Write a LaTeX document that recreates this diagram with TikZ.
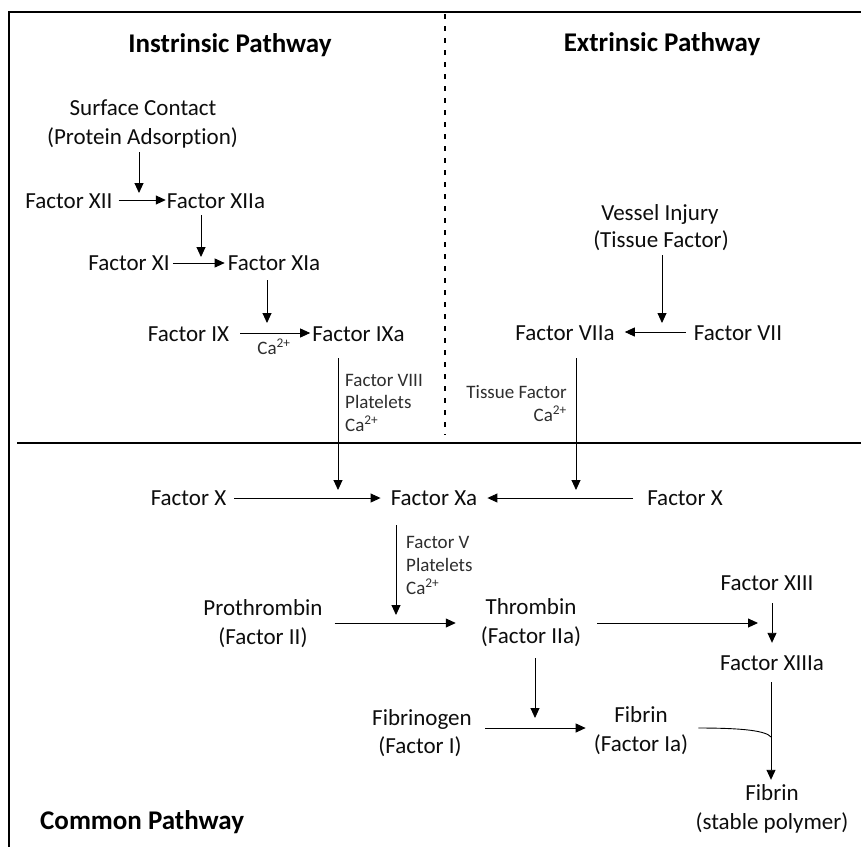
\documentclass[tikz,border=0pt]{standalone}
\usepackage{fontspec}
\setmainfont{Carlito}[Ligatures={NoCommon},RawFeature={-liga;-calt;-clig}]
\usetikzlibrary{arrows.meta}
\begin{document}
\begin{tikzpicture}[x=1pt,y=-1pt,
  txt/.style={font=\fontsize{23}{28}\selectfont, text=black!95, inner sep=0pt, text height=16pt, text depth=6pt, anchor=base},
  ttl/.style={font=\fontsize{27}{32}\selectfont\bfseries, text=black, inner sep=0pt, anchor=base},
  lbl/.style={font=\fontsize{19}{23}\selectfont, text=black!82, inner sep=0pt},
  arr/.style={draw=black, line width=0.9pt, -{Triangle[length=10pt,width=9pt]}},
  ln/.style={draw=black, line width=0.9pt},
  frame/.style={draw=black, line width=2pt},
  sep/.style={draw=black, line width=1.5pt, dash pattern=on 5pt off 7pt},
]
\useasboundingbox (0,0) rectangle (861,847);
\fill[white] (0,0) rectangle (861,847);

% frame and separators
\coordinate (tr) at (861,12);
\coordinate (tl) at (9,12);
\coordinate (bl) at (9,847);
\coordinate (ml) at (17,443);
\coordinate (mr) at (861,443);
\coordinate (dt) at (445,14);
\coordinate (db) at (445,435);
\draw[frame] (tr) -- (tl) -- (bl);
\draw[frame] (ml) -- (mr);
\draw[sep] (dt) -- (db);

% titles
\node[ttl] (tin) at (230,52) {Instrinsic Pathway};
\node[ttl] (tex) at (662,51) {Extrinsic Pathway};
\node[ttl, anchor=base west] (tco) at (40,829) {Common Pathway};

% intrinsic
\node[txt] (sc1) at (143,115) {Surface Contact};
\node[txt] (sc2) at (142.5,144) {(Protein Adsorption)};
\node[txt] (f12) at (69,208) {Factor XII};
\node[txt] (f12a) at (216,208) {Factor XIIa};
\node[txt] (f11) at (129,270) {Factor XI};
\node[txt] (f11a) at (274,270) {Factor XIa};
\node[txt] (f9) at (188.5,341) {Factor IX};
\node[txt] (f9a) at (358.5,341) {Factor IXa};
\node[lbl, anchor=base] (ca1) at (274,354) {Ca\textsuperscript{2+}};
\node[lbl, anchor=base west] (l8a) at (345,386) {Factor VIII};
\node[lbl, anchor=base west] (l8b) at (345,408) {Platelets};
\node[lbl, anchor=base west] (l8c) at (345,431) {Ca\textsuperscript{2+}};

% extrinsic
\node[txt] (vi1) at (660,220) {Vessel Injury};
\node[txt] (vi2) at (661,247) {(Tissue Factor)};
\node[txt] (f7a) at (565,340) {Factor VIIa};
\node[txt] (f7) at (738,340) {Factor VII};
\node[lbl, anchor=base east] (tfa) at (567,398) {Tissue Factor};
\node[lbl, anchor=base east] (tfb) at (567,421) {Ca\textsuperscript{2+}};

% common
\node[txt] (fx1) at (188.5,505) {Factor X};
\node[txt] (fxa) at (434,505) {Factor Xa};
\node[txt] (fx2) at (685,505) {Factor X};
\node[lbl, anchor=base west] (l5a) at (406,548) {Factor V};
\node[lbl, anchor=base west] (l5b) at (406,571) {Platelets};
\node[lbl, anchor=base west] (l5c) at (406,594) {Ca\textsuperscript{2+}};
\node[txt] (pt1) at (263,615) {Prothrombin};
\node[txt] (pt2) at (263,644) {(Factor II)};
\node[txt] (th1) at (531,614) {Thrombin};
\node[txt] (th2) at (531,643) {(Factor IIa)};
\node[txt] (f13) at (767,590) {Factor XIII};
\node[txt] (f13a) at (772,670) {Factor XIIIa};
\node[txt] (fg1) at (422,725) {Fibrinogen};
\node[txt] (fg2) at (420,753) {(Factor I)};
\node[txt] (fb1) at (641,722) {Fibrin};
\node[txt] (fb2) at (641,751) {(Factor Ia)};
\node[txt] (fs1) at (772,800) {Fibrin};
\node[txt] (fs2) at (772,829) {(stable polymer)};

% junction points on arrows
\coordinate (j1) at (139,200);
\coordinate (j2) at (201,263);
\coordinate (j3) at (267,333);
\coordinate (j4) at (338,498);
\coordinate (j5) at (576,498);
\coordinate (j6) at (662,332);
\coordinate (j7) at (396,623);
\coordinate (j8) at (772,623);
\coordinate (j9) at (535,728);
\coordinate (j10) at (771,737);

% intrinsic arrows
\draw[arr, shorten <=2pt, shorten >=7pt] (sc2.south -| j1) -- (j1);
\draw[arr, shorten <=6pt, shorten >=1pt] (f12.east |- j1) -- (f12a.west |- j1);
\draw[arr, shorten <=1pt, shorten >=6pt] (f12a.south -| j2) -- (j2);
\draw[arr, shorten <=3pt, shorten >=3pt] (f11.east |- j2) -- (f11a.west |- j2);
\draw[arr, shorten <=4pt, shorten >=10pt] (f11a.south -| j3) -- (j3);
\draw[arr, shorten <=11pt, shorten >=2pt] (f9.east |- j3) -- (f9a.west |- j3);
\draw[arr, shorten <=11pt, shorten >=8pt] (f9a.south -| j4) -- (j4);

% extrinsic arrows
\draw[arr, shorten <=2pt, shorten >=9pt] (vi2.south -| j6) -- (j6);
\draw[arr, shorten <=8pt, shorten >=10pt] (f7.west |- j6) -- (f7a.east |- j6);
\draw[arr, shorten <=12pt, shorten >=8pt] (f7a.south -| j5) -- (j5);

% common arrows
\draw[arr, shorten <=8pt, shorten >=10pt] (fx1.east |- j4) -- (fxa.west |- j4);
\draw[arr, shorten <=14pt, shorten >=10pt] (fx2.west |- j5) -- (fxa.east |- j5);
\draw[arr, shorten <=14pt, shorten >=8pt] (fxa.south -| j7) -- (j7);
\draw[arr, shorten <=12pt, shorten >=25pt] (pt1.east |- j7) -- (th2.west |- j7);
\draw[arr, shorten <=16pt, shorten >=14pt] (th2.east |- j8) -- (j8);
\draw[arr, shorten <=7pt, shorten >=11pt] (f13.south -| j8) -- (f13a.north -| j8);
\draw[arr, shorten <=9pt, shorten >=10pt] (th2.south -| j9) -- (j9);
\draw[arr, shorten <=13pt, shorten >=8pt] (fg1.east |- j9) -- (fb2.west |- j9);
\draw[arr, shorten <=6pt, shorten >=4pt] (f13a.south -| j10) -- (fs1.north -| j10);
\draw[ln, shorten <=10pt] (fb2.east |- j9) .. controls (745,728) and (766,731) .. (j10);
\end{tikzpicture}
\end{document}
